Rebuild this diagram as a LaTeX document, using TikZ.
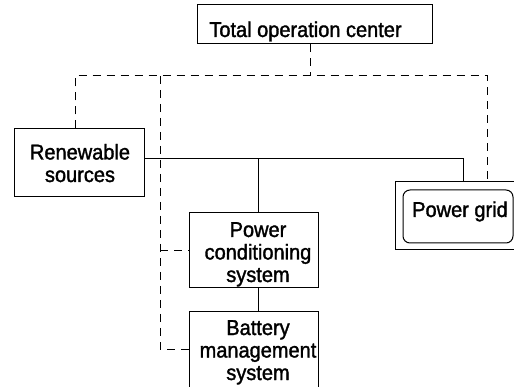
\documentclass[tikz,border=0pt]{standalone}
\usepackage{fontspec}
\setmainfont{Liberation Sans}[FakeStretch=0.93,FakeBold=1.5]
\begin{document}
\begin{tikzpicture}[x=1pt,y=-1pt,
  box/.style={draw,line width=1pt,rectangle,inner sep=0pt},
  txt/.style={inner sep=0pt,align=center,anchor=base,font=\fontsize{21.5}{22.5}\selectfont},
  power/.style={line width=1pt},
  ctl/.style={line width=1pt,dash pattern=on 8pt off 6pt}]
\useasboundingbox (0,0) rectangle (514,387);
\clip (0,0) rectangle (514,387);
% boxes
\node[box,minimum width=235pt,minimum height=39pt] (toc) at (314.5,24.5) {};
\node[box,minimum width=130pt,minimum height=68pt] (ren) at (79,163) {};
\node[box,minimum width=129pt,minimum height=75pt] (pcs) at (253.5,250.5) {};
\node[box,minimum width=129pt,minimum height=88pt] (bms) at (253.5,356) {};
\node[box,minimum width=125pt,minimum height=68pt] (gridout) at (457.5,216) {};
\node[box,rounded corners=7pt,minimum width=110pt,minimum height=53pt] (gridin) at (458,216.5) {};
% labels (base anchor sits on the last line)
\node[txt] (toct) at (305.5,37) {Total operation center};
\node[txt] (rent) at (80,182) {Renewable\\sources};
\node[txt] (pcst) at (258,282) {Power\\conditioning\\system};
\node[txt] (bmst) at (258,380) {Battery\\management\\system};
\node[txt] (gridt) at (460,217) {Power grid};
% power connections
\coordinate (tap) at (258,159);
\draw[power] ([yshift=4pt]ren.east) -| ([xshift=5.5pt]gridout.north);
\draw[power] (tap) -- (tap |- pcs.north);
\draw[power] (pcs.south -| tap) -- (bms.north -| tap);
% control (dashed) connections
\coordinate (bl) at (75,76);
\coordinate (br) at (487,76);
\coordinate (vt) at (160,76);
\draw[ctl] ([xshift=-4.5pt]toc.south) -- ([xshift=-4.5pt]toc.south |- bl);
\draw[ctl] ([xshift=-4pt]ren.north) -- (bl) -- (br) -- (br |- gridout.north);
\draw[ctl] (vt) |- ([yshift=7pt]bms.west);
\draw[ctl] (vt |- pcs.west) -- (pcs.west);
\end{tikzpicture}
\end{document}
